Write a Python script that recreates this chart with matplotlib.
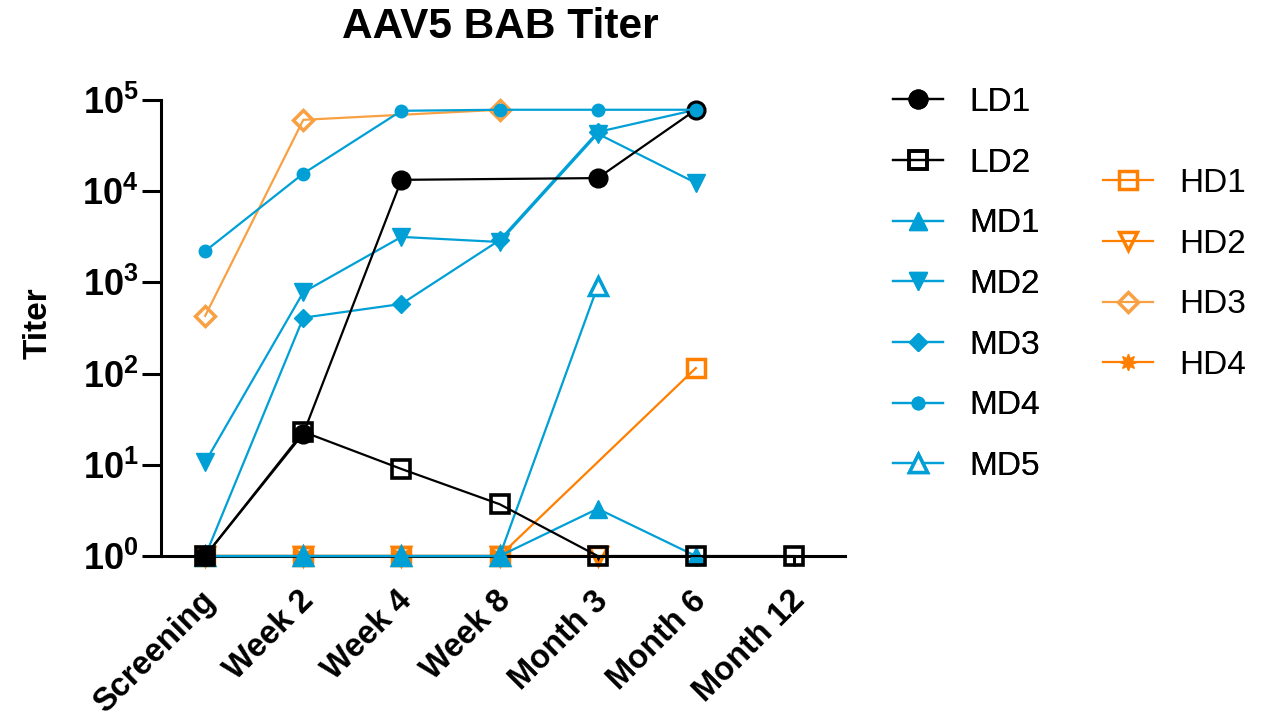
import numpy as np
import matplotlib
matplotlib.use("Agg")
import matplotlib.pyplot as plt
import matplotlib.transforms as mtransforms
from matplotlib.lines import Line2D

plt.rcParams['font.family'] = ['Liberation Sans', 'DejaVu Sans']
plt.rcParams['mathtext.fontset'] = 'custom'
plt.rcParams['mathtext.rm'] = 'Liberation Sans'
plt.rcParams['mathtext.bf'] = 'Liberation Sans:bold'

categories = ["Screening", "Week 2", "Week 4", "Week 8", "Month 3", "Month 6", "Month 12"]
nan = np.nan
LD1 = [1, 22, 13300, nan, 13900, 78000, nan]
LD2 = [1, 23, 9, 3.7, 1, 1, 1]
MD1 = [1, 1, 1, 1, 3.3, 1, nan]
MD2 = [10.7, 780, 3150, 2770, 42600, 12300, nan]
MD3 = [1, 410, 580, 2900, 44500, 78000, nan]
MD4 = [2200, 15600, 76000, 78000, 78000, 78000, nan]
MD5 = [1, 1, 1, 1, 910, nan, nan]
HD1 = [1, 1, 1, 1, nan, 115, nan]
HD2 = [1, 1, 1, 1, 1, nan, nan]
HD3 = [430, 60500, nan, 78000, nan, nan, nan]
HD4 = [1, 1, 1, 1, nan, nan, nan]
ytick_labels = [r'$\mathbf{10^{%d}}$' % k for k in range(6)]

BLACK = '#000000'
BLUE = '#00A0D6'
ORANGE = '#FF7F00'
ORANGE2 = '#F9A043'

fig = plt.figure(figsize=(12.74, 7.24), dpi=100)
ax = fig.add_axes([0.1264, 0.232, 0.5369, 0.630])
x = np.arange(len(categories))

def series(y):
    y = np.array(y, dtype=float)
    m = ~np.isnan(y)
    return x[m], y[m]

specs = [
    ("HD4", HD4, ORANGE, dict(marker=(8, 1, 0), ms=12, mfc=ORANGE, mec=ORANGE, mew=1), 2),
    ("HD3", HD3, ORANGE2, dict(marker='D', ms=10, mfc='none', mec=ORANGE2, mew=2.5), 2),
    ("HD2", HD2, ORANGE, dict(marker='v', ms=13, mfc='none', mec=ORANGE, mew=2.5), 2),
    ("HD1", HD1, ORANGE, dict(marker='s', ms=13.5, mfc='none', mec=ORANGE, mew=2.5), 2),
    ("MD5", MD5, BLUE, dict(marker='^', ms=13.5, mfc='white', mec=BLUE, mew=2.5), 3),
    ("MD3", MD3, BLUE, dict(marker='D', ms=9.5, mfc=BLUE, mec=BLUE, mew=1), 3),
    ("MD2", MD2, BLUE, dict(marker='v', ms=12.5, mfc=BLUE, mec=BLUE, mew=1), 3),
    ("MD1", MD1, BLUE, dict(marker='^', ms=12.5, mfc=BLUE, mec=BLUE, mew=1), 3),
    ("LD2", LD2, BLACK, dict(marker='s', ms=13.3, mfc='none', mec=BLACK, mew=2.6), 4),
    ("LD1", LD1, BLACK, dict(marker='o', ms=13.5, mfc=BLACK, mec=BLACK, mew=1), 4),
    ("MD4", MD4, BLUE, dict(marker='o', ms=9, mfc=BLUE, mec=BLUE, mew=1), 5),
]
handles = {}
for name, vals, col, mk, z in specs:
    xs, ys = series(vals)
    ax.plot(xs, ys, color=col, lw=1.6, zorder=z, clip_on=False, **mk)
    handles[name] = Line2D([], [], color=col, lw=1.6, **mk)

ax.set_yscale('log')
ax.set_ylim(1, 1e5)
ax.set_xlim(-0.45, 6.52)
ax.set_yticks([10 ** k for k in range(6)])
ax.set_yticklabels(ytick_labels, fontsize=26)
ax.yaxis.set_minor_locator(matplotlib.ticker.NullLocator())
ax.set_xticks(x)
ax.set_xticklabels(categories, rotation=45, ha='right', rotation_mode='anchor',
                   fontsize=23.5, fontweight='bold')
ax.tick_params(axis='y', length=14, width=2.2, pad=2)
ax.tick_params(axis='x', length=7, width=2.2, pad=14)
shift = mtransforms.ScaledTranslation(-5 / 100, 0, fig.dpi_scale_trans)
for lbl in ax.get_xticklabels():
    lbl.set_transform(lbl.get_transform() + shift)
for s in ['top', 'right']:
    ax.spines[s].set_visible(False)
for s in ['left', 'bottom']:
    ax.spines[s].set_linewidth(2.2)
fig.text(38.5 / 1274, 1 - 323 / 724, "Titer", rotation=90, ha='center', va='center',
         fontsize=24, fontweight='bold')
fig.text(0.393, 1 - 27 / 724, "AAV5 BAB Titer", ha='center', va='center', fontsize=30.5, fontweight='bold')

names1 = ["LD1", "LD2", "MD1", "MD2", "MD3", "MD4", "MD5"]
names2 = ["HD1", "HD2", "HD3", "HD4"]
common = dict(loc='upper left', frameon=False, fontsize=24, handlelength=1.5,
              handletextpad=0.8, labelspacing=0.89, borderpad=0, borderaxespad=0)
leg1 = fig.legend([handles[n] for n in names1], names1,
                  bbox_to_anchor=(893 / 1274, 1 - 87 / 724), **common)
fig.add_artist(leg1)
fig.legend([handles[n] for n in names2], names2,
           bbox_to_anchor=(1103 / 1274, 1 - 168 / 724), **common)

fig.savefig("out.png", dpi=100)
